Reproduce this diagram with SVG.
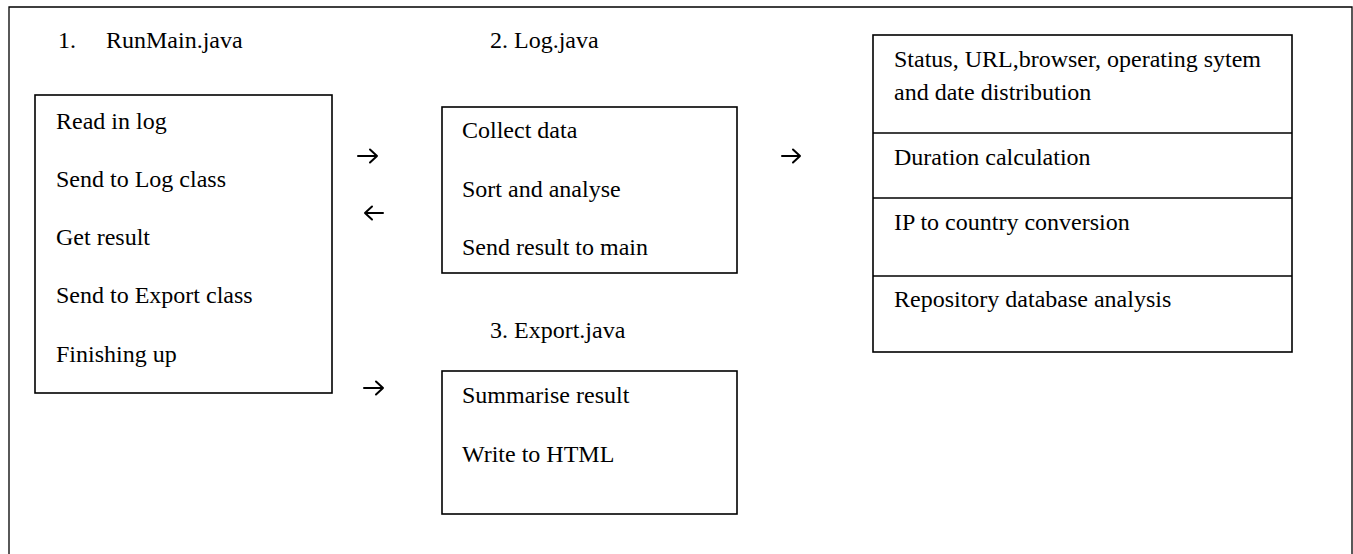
<svg xmlns="http://www.w3.org/2000/svg" width="1353" height="554" viewBox="0 0 1353 554">
<style>
.box{fill:#fff;stroke:#000;stroke-width:1.6}
.frame{fill:none;stroke:#000;stroke-width:1.3}
.t{font-family:"Liberation Serif","Times New Roman",serif;font-size:24px;fill:#000}
.arr{fill:none;stroke:#000;stroke-width:2;stroke-linecap:round;stroke-linejoin:round}
</style>
<rect x="0" y="0" width="1353" height="554" fill="#fff"/>
<path class="frame" d="M9,560 V7 H1352 V560"/>
<g id="runmain">
<text class="t" x="58" y="48">1.</text>
<text class="t" x="106" y="48">RunMain.java</text>
<rect class="box" x="35" y="95" width="297" height="298"/>
<text class="t" x="56" y="129">Read in log</text>
<text class="t" x="56" y="187">Send to Log class</text>
<text class="t" x="56" y="245">Get result</text>
<text class="t" x="56" y="303">Send to Export class</text>
<text class="t" x="56" y="362">Finishing up</text>
</g>
<g id="log">
<text class="t" x="490" y="48">2. Log.java</text>
<rect class="box" x="442" y="107" width="295" height="166"/>
<text class="t" x="462" y="138">Collect data</text>
<text class="t" x="462" y="197">Sort and analyse</text>
<text class="t" x="462" y="255">Send result to main</text>
</g>
<g id="export">
<text class="t" x="490" y="338">3. Export.java</text>
<rect class="box" x="442" y="371" width="295" height="143"/>
<text class="t" x="462" y="403">Summarise result</text>
<text class="t" x="462" y="462">Write to HTML</text>
</g>
<g id="analysis">
<rect class="box" x="873" y="35" width="419" height="317"/>
<line class="box" x1="873" y1="133" x2="1292" y2="133"/>
<line class="box" x1="873" y1="198" x2="1292" y2="198"/>
<line class="box" x1="873" y1="276" x2="1292" y2="276"/>
<text class="t" x="894" y="67">Status, URL,browser, operating sytem</text>
<text class="t" x="894" y="100">and date distribution</text>
<text class="t" x="894" y="165">Duration calculation</text>
<text class="t" x="894" y="230">IP to country conversion</text>
<text class="t" x="894" y="307">Repository database analysis</text>
</g>
<g id="connectors">
<path class="arr" d="M358,156 H377 M370,149.5 L377,156 L370,162.5"/>
<path class="arr" d="M383,213 H365 M372,206.5 L365,213 L372,219.5"/>
<path class="arr" d="M364,388 H383 M376,381.5 L383,388 L376,394.5"/>
<path class="arr" d="M782,156 H800 M793,149.5 L800,156 L793,162.5"/>
</g>
</svg>
